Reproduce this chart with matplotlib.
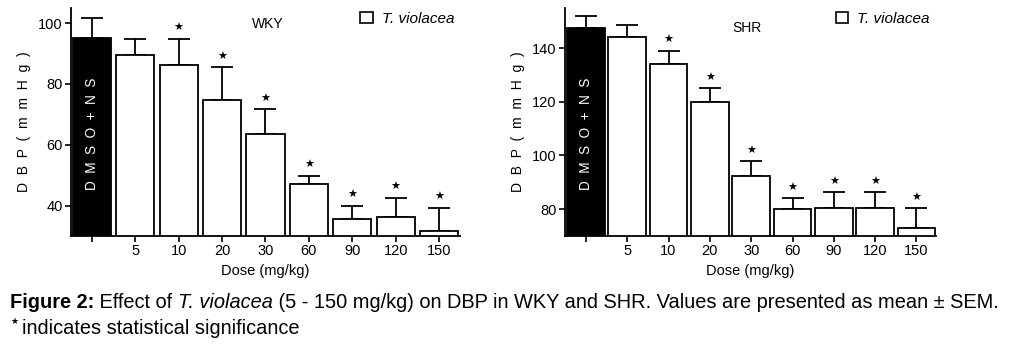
import numpy as np
import matplotlib
matplotlib.use("Agg")
import matplotlib.pyplot as plt
from matplotlib.patches import Patch

plt.rcParams['font.family'] = ['Liberation Sans', 'DejaVu Sans']

# data
doses = ["", "5", "10", "20", "30", "60", "90", "120", "150"]

wky_mean = [95.2, 89.6, 86.4, 74.7, 63.6, 47.0, 35.6, 36.4, 31.7]
wky_sem = [6.6, 5.2, 8.4, 10.8, 8.1, 2.8, 4.4, 6.1, 7.6]
wky_sig = [False, False, True, True, True, True, True, True, True]

shr_mean = [147.6, 144.3, 134.2, 120.1, 92.3, 80.0, 80.5, 80.5, 73.1]
shr_sem = [4.4, 4.5, 4.9, 4.9, 5.5, 4.1, 5.8, 5.8, 7.3]
shr_sig = [False, False, True, True, True, True, True, True, True]

fig = plt.figure(figsize=(10.14, 3.47), dpi=100)


def panel(rect, mean, sem, sig, ylim, yticks, xlim, width, title, title_xy, ctrl_y):
    ax = fig.add_axes(rect)
    x = np.arange(len(mean))
    colors = ['black'] + ['white'] * (len(mean) - 1)
    ax.bar(x, mean, width=width, color=colors, edgecolor='black', linewidth=1.3, zorder=2)
    # upper error bars only
    ax.errorbar(x, mean, yerr=[np.zeros(len(sem)), sem], fmt='none', ecolor='black',
                elinewidth=1.3, capsize=8, capthick=1.3, zorder=1)
    for xi, m, s, g in zip(x, mean, sem, sig):
        if g:
            ax.annotate("★", (xi, m + s), xytext=(0, 4), textcoords='offset points',
                        ha='center', va='bottom', fontsize=8, family=['DejaVu Sans'])
    ax.text(0, ctrl_y, "D  M  S  O  +  N  S", rotation=90, color='white',
            ha='center', va='center', fontsize=9.8)
    ax.set_ylim(*ylim)
    ax.set_xlim(*xlim)
    ax.set_yticks(yticks)
    ax.set_xticks(x)
    ax.set_xticklabels(doses)
    ax.tick_params(labelsize=10.5, direction='out', length=4, width=1.2, pad=2)
    for s in ['top', 'right']:
        ax.spines[s].set_visible(False)
    for s in ['left', 'bottom']:
        ax.spines[s].set_linewidth(1.3)
    ax.set_xlabel("Dose (mg/kg)", fontsize=10.5, labelpad=4)
    ax.set_ylabel("D  B  P  (  m  m  H  g  )", fontsize=10, labelpad=5)
    ax.text(title_xy[0], title_xy[1], title, transform=ax.transAxes, ha='center',
            va='center', fontsize=10)
    handle = Patch(facecolor='white', edgecolor='black', linewidth=1.2)
    ax.legend([handle], ["T. violacea"], loc='upper right', frameon=False,
              prop={'style': 'italic', 'size': 11}, handlelength=0.8, handleheight=0.8,
              handletextpad=0.6, bbox_to_anchor=(1.0, 1.01), borderaxespad=0)
    return ax


panel([0.070, 0.320, 0.384, 0.657], wky_mean, wky_sem, wky_sig, (30, 105),
      [40, 60, 80, 100], (-0.48, 8.49), 0.88, "WKY", (0.505, 0.93), 63.5)
panel([0.557, 0.320, 0.366, 0.657], shr_mean, shr_sem, shr_sig, (70, 155),
      [80, 100, 120, 140], (-0.51, 8.47), 0.91, "SHR", (0.49, 0.91), 108)

# caption with mixed styles
renderer = fig.canvas.get_renderer()
pieces = [("Figure 2:", 'bold', 'normal'), (" Effect of ", 'normal', 'normal'),
          ("T. violacea", 'normal', 'italic'),
          (" (5 - 150 mg/kg) on DBP in WKY and SHR. Values are presented as mean ± SEM.",
           'normal', 'normal')]
xpos = 10 / 1014
for txt, w, st in pieces:
    t = fig.text(xpos, 1 - 303 / 347, txt, fontsize=14.4, weight=w, style=st,
                 ha='left', va='center')
    bb = t.get_window_extent(renderer)
    xpos = bb.x1 / 1014
fig.text(10 / 1014, 1 - 321 / 347, "★", fontsize=6.5, ha='left', va='center',
         family=['DejaVu Sans'])
fig.text(22 / 1014, 1 - 329 / 347, "indicates statistical significance", fontsize=14.4,
         ha='left', va='center')

fig.savefig("out.png", dpi=100)
